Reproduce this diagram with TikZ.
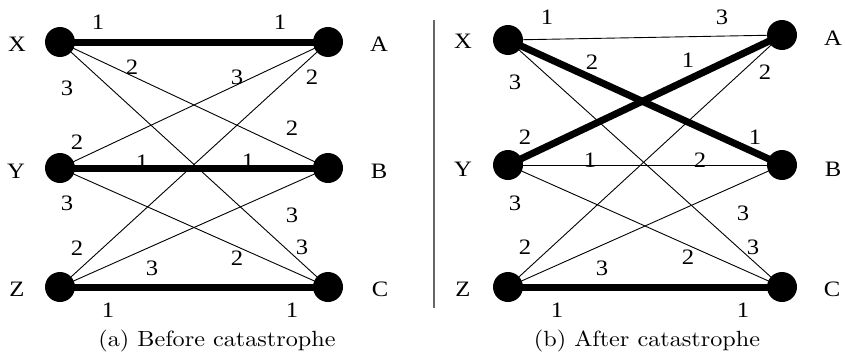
\documentclass[tikz,border=0pt]{standalone}
\usepackage{fontspec}
\usepackage{graphicx}
\newfontfamily\tmsfont{Liberation Serif}
\newfontfamily\capfont{lmroman10-regular}[Extension=.otf]
\newcommand\hs[1]{\scalebox{1.12}[1]{#1}}
\newcommand\hc[1]{\scalebox{1.1}[1]{#1}}
\usetikzlibrary{backgrounds}
\begin{document}
\begin{tikzpicture}[x=1pt,y=-1pt,
  vert/.style={circle,fill=black,minimum size=30pt,inner sep=0pt},
  lbl/.style={font=\tmsfont\fontsize{22}{26}\selectfont,inner sep=0pt},
  num/.style={font=\tmsfont\fontsize{22}{26}\selectfont,inner sep=0pt},
  captext/.style={font=\capfont\fontsize{22}{26}\selectfont,inner sep=0pt},
  thin edge/.style={line width=0.9pt},
  thick edge/.style={line width=7pt},
  divider/.style={draw=black!60,line width=1.2pt}]
\useasboundingbox (0,0) rectangle (845,356);
% ---- left panel ----
\node[vert] (X) at (60,42) {};
\node[vert] (A) at (328,42) {};
\node[vert] (Y) at (60,168) {};
\node[vert] (B) at (328,168) {};
\node[vert] (Z) at (60,287) {};
\node[vert] (C) at (328,287) {};
\node[lbl] (lX) at (17,44) {\hs{X}};
\node[lbl] (lA) at (379,44) {\hs{A}};
\node[lbl] (lY) at (16,171) {\hs{Y}};
\node[lbl] (lB) at (379,171) {\hs{B}};
\node[lbl] (lZ) at (17,289) {\hs{Z}};
\node[lbl] (lC) at (380,289) {\hs{C}};
\begin{scope}[on background layer]
\draw[thick edge] (X.center) -- (A.center);
\draw[thick edge] (Y.center) -- (B.center);
\draw[thick edge] (Z.center) -- (C.center);
\draw[thin edge] (X.center) -- (B.center);
\draw[thin edge] (X.center) -- (C.center);
\draw[thin edge] (Y.center) -- (A.center);
\draw[thin edge] (Y.center) -- (C.center);
\draw[thin edge] (Z.center) -- (A.center);
\draw[thin edge] (Z.center) -- (B.center);
\end{scope}
\node[num] (n1) at (98,22) {\hs{1}};
\node[num] (n2) at (280,22) {\hs{1}};
\node[num] (n3) at (132,67) {\hs{2}};
\node[num] (n4) at (67,88) {\hs{3}};
\node[num] (n5) at (237,77) {\hs{3}};
\node[num] (n6) at (312,77) {\hs{2}};
\node[num] (n7) at (292,128) {\hs{2}};
\node[num] (n8) at (77,142) {\hs{2}};
\node[num] (n9) at (142,162) {\hs{1}};
\node[num] (n10) at (248,161) {\hs{1}};
\node[num] (n11) at (67,203) {\hs{3}};
\node[num] (n12) at (292,215) {\hs{3}};
\node[num] (n13) at (77,248) {\hs{2}};
\node[num] (n14) at (302,247) {\hs{3}};
\node[num] (n15) at (237,258) {\hs{2}};
\node[num] (n16) at (152,268) {\hs{3}};
\node[num] (n17) at (108,310) {\hs{1}};
\node[num] (n18) at (292,310) {\hs{1}};
\node[captext] (capa) at (217,341) {\hc{(a) Before catastrophe}};
% ---- divider ----
\coordinate (d1) at (434,20);
\coordinate (d2) at (434,308);
\draw[divider] (d1) -- (d2);
% ---- right panel ----
\node[vert] (X2) at (508,40) {};
\node[vert] (A2) at (782,35) {};
\node[vert] (Y2) at (508,165) {};
\node[vert] (B2) at (782,165) {};
\node[vert] (Z2) at (508,287) {};
\node[vert] (C2) at (782,287) {};
\node[lbl] (rX) at (463,41) {\hs{X}};
\node[lbl] (rA) at (833,38) {\hs{A}};
\node[lbl] (rY) at (463,169) {\hs{Y}};
\node[lbl] (rB) at (833,169) {\hs{B}};
\node[lbl] (rZ) at (463,289) {\hs{Z}};
\node[lbl] (rC) at (832,289) {\hs{C}};
\begin{scope}[on background layer]
\draw[thin edge] (X2.center) -- (A2.center);
\draw[thick edge] (X2.center) -- (B2.center);
\draw[thin edge] (X2.center) -- (C2.center);
\draw[thick edge] (Y2.center) -- (A2.center);
\draw[thin edge] (Y2.center) -- (B2.center);
\draw[thin edge] (Y2.center) -- (C2.center);
\draw[thin edge] (Z2.center) -- (A2.center);
\draw[thin edge] (Z2.center) -- (B2.center);
\draw[thick edge] (Z2.center) -- (C2.center);
\end{scope}
\node[num] (m1) at (547,17) {\hs{1}};
\node[num] (m2) at (722,17) {\hs{3}};
\node[num] (m3) at (592,62) {\hs{2}};
\node[num] (m4) at (688,60) {\hs{1}};
\node[num] (m5) at (515,82) {\hs{3}};
\node[num] (m6) at (765,72) {\hs{2}};
\node[num] (m7) at (525,137) {\hs{2}};
\node[num] (m8) at (755,137) {\hs{1}};
\node[num] (m9) at (590,160) {\hs{1}};
\node[num] (m10) at (700,160) {\hs{2}};
\node[num] (m11) at (515,203) {\hs{3}};
\node[num] (m12) at (743,213) {\hs{3}};
\node[num] (m13) at (525,247) {\hs{2}};
\node[num] (m14) at (753,247) {\hs{3}};
\node[num] (m15) at (688,257) {\hs{2}};
\node[num] (m16) at (602,268) {\hs{3}};
\node[num] (m17) at (557,310) {\hs{1}};
\node[num] (m18) at (743,310) {\hs{1}};
\node[captext] (capb) at (647,341) {\hc{(b) After catastrophe}};
\end{tikzpicture}
\end{document}
